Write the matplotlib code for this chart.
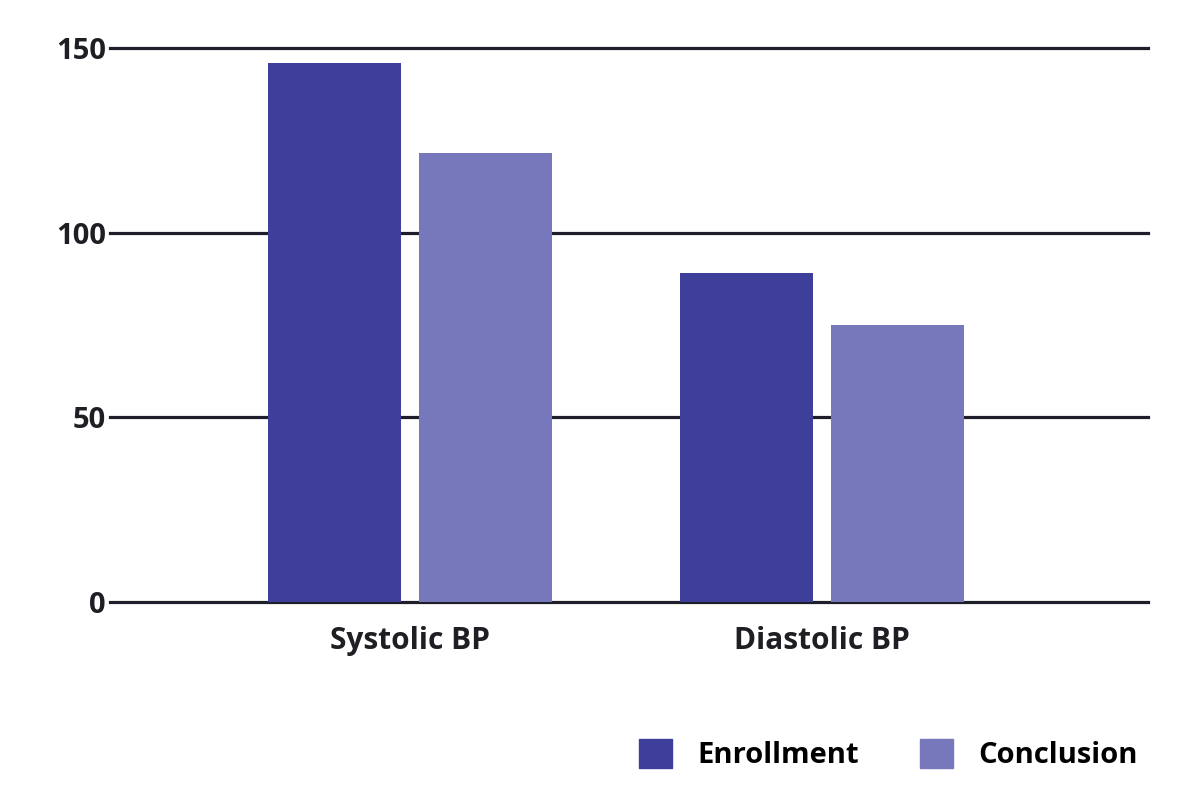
import numpy as np
import matplotlib
matplotlib.use("Agg")
import matplotlib.pyplot as plt
from matplotlib.patches import Patch

categories = ["Systolic BP", "Diastolic BP"]
enrollment = [146, 89]
conclusion = [121.5, 75]
series_names = ["Enrollment", "Conclusion"]
y_ticks = [0, 50, 100, 150]

c_enroll = "#3d3f9a"
c_concl = "#7778bb"
c_line = "#1f1f2b"
c_text = "#1e1e24"

plt.rcParams['font.family'] = ['Open Sans', 'DejaVu Sans']

fig = plt.figure(figsize=(12, 8), dpi=100)
ax = fig.add_axes([0.0917, 0.2475, 0.865, 0.6925])

x = np.arange(len(categories))
w = 0.323
off = 0.183
ax.bar(x - off, enrollment, w, color=c_enroll, zorder=3)
ax.bar(x + off, conclusion, w, color=c_concl, zorder=3)

ax.set_ylim(0, 150)
ax.set_xlim(-0.728, 1.791)
ax.set_yticks(y_ticks)
ax.set_yticklabels([str(t) for t in y_ticks], fontsize=21, fontweight='bold', color=c_text)
ax.set_xticks(x)
ax.set_xticklabels(categories, fontsize=21.5, fontweight='bold', color=c_text)
ax.tick_params(axis='both', length=0)
ax.tick_params(axis='y', pad=3)
ax.tick_params(axis='x', pad=17)

# gridlines drawn behind bars
for t in y_ticks:
    ax.axhline(t, color=c_line, lw=2.3, zorder=1, clip_on=False)

for s in ax.spines.values():
    s.set_visible(False)

handles = [Patch(color=c_enroll), Patch(color=c_concl)]
fig.legend(handles, series_names, loc='center right', bbox_to_anchor=(0.948, 0.0565),
           ncol=2, frameon=False, handlelength=1.15, handleheight=1.15,
           handletextpad=0.85, columnspacing=2.1, borderpad=0, borderaxespad=0,
           prop={'size': 21, 'weight': 'bold'})

fig.savefig("out.png", dpi=100, facecolor="white")
